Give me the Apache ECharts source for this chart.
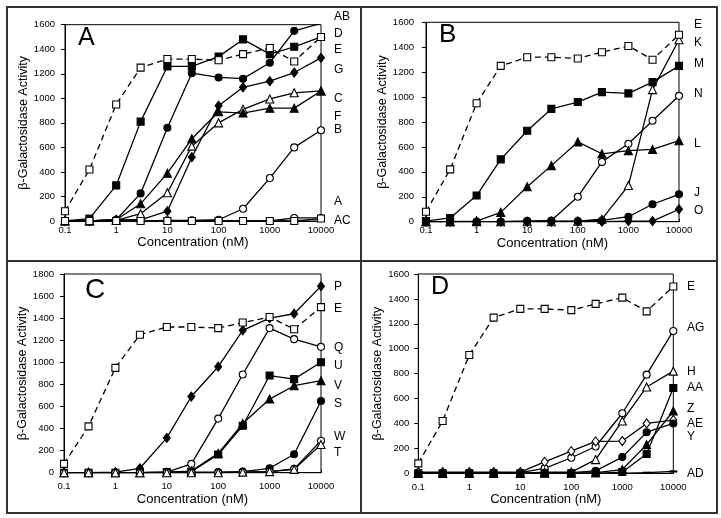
<!DOCTYPE html>
<html>
<head>
<meta charset="utf-8">
<script src="https://cdn.jsdelivr.net/npm/echarts@6/dist/echarts.min.js"></script>
<style>
html,body{margin:0;padding:0;background:#fff;}
#c{width:721px;height:518px;}
</style>
</head>
<body>
<div id="c"></div>
<script>
// ---- data ----
var conc = [0.1, 0.3, 1, 3, 10, 30, 100, 300, 1000, 3000, 10000];
var xTicks = ['0.1', '1', '10', '100', '1000', '10000'];
var yTicks1600 = [0, 200, 400, 600, 800, 1000, 1200, 1400, 1600];
var yTicks1800 = [0, 200, 400, 600, 800, 1000, 1200, 1400, 1600, 1800];

var E = [80, 420, 950, 1250, 1320, 1320, 1310, 1360, 1410, 1300, 1500];

// Panel A
var A_D  = [0, 20, 290, 810, 1260, 1260, 1340, 1480, 1360, 1420, 1500];
var A_AB = [0, 0, 10, 225, 760, 1205, 1170, 1160, 1290, 1550, 1610];
var A_G  = [0, 0, 10, 10, 80, 520, 940, 1090, 1140, 1210, 1330];
var A_C  = [0, 0, 5, 60, 230, 610, 800, 910, 995, 1045, 1060];
var A_F  = [0, 0, 10, 140, 390, 670, 890, 880, 920, 920, 1060];
var A_B  = [0, 0, 0, 0, 5, 5, 10, 100, 350, 600, 740];
var A_A  = [0, 0, 0, 0, 0, 0, 0, 0, 0, 25, 25];
var A_AC = [0, 0, 0, 0, 0, 0, 0, 0, 0, 0, 20];

// Panel B
var B_K = [0, 0, 0, 0, 0, 0, 5, 20, 290, 1060, 1460];
var B_M = [5, 30, 210, 500, 730, 905, 960, 1040, 1030, 1120, 1250];
var B_N = [0, 0, 0, 0, 5, 10, 200, 480, 625, 810, 1010];
var B_L = [0, 0, 5, 75, 280, 450, 640, 545, 570, 580, 650];
var B_J = [0, 0, 0, 0, 5, 5, 5, 10, 40, 140, 220];
var B_O = [0, 0, 0, 0, 0, 0, 0, 0, 5, 5, 100];

// Panel C
var C_P = [0, 0, 5, 40, 315, 690, 960, 1290, 1400, 1440, 1690];
var C_Q = [0, 0, 0, 0, 5, 80, 490, 890, 1310, 1210, 1140];
var C_U = [0, 0, 0, 0, 5, 10, 165, 425, 880, 848, 1000];
var C_V = [0, 0, 0, 0, 5, 15, 175, 445, 667, 788, 834];
var C_S = [0, 0, 0, 0, 0, 5, 5, 10, 40, 167, 650];
var C_W = [0, 0, 0, 0, 0, 0, 0, 5, 10, 35, 290];
var C_T = [0, 0, 0, 0, 0, 0, 0, 5, 10, 30, 255];

// Panel D
var D_AG = [5, 5, 5, 5, 5, 40, 125, 215, 482, 792, 1143];
var D_H  = [0, 0, 0, 0, 0, 10, 10, 110, 420, 693, 820];
var D_AA = [0, 0, 0, 0, 0, 0, 0, 0, 10, 155, 685];
var D_Z  = [0, 0, 0, 0, 0, 0, 0, 5, 30, 230, 500];
var D_AE = [10, 10, 10, 10, 10, 92, 178, 256, 259, 400, 427];
var D_Y  = [0, 0, 0, 0, 0, 0, 5, 20, 130, 330, 400];
var D_AD = [0, 0, 0, 0, 0, 0, 0, 0, 0, 5, 15];

var panelLetters = ['A', 'B', 'C', 'D'];
var labelsA = ['AB', 'D', 'E', 'G', 'C', 'F', 'B', 'A', 'AC'];
var labelsB = ['E', 'K', 'M', 'N', 'L', 'J', 'O'];
var labelsC = ['P', 'E', 'Q', 'U', 'V', 'S', 'W', 'T'];
var labelsD = ['E', 'AG', 'H', 'AA', 'Z', 'AE', 'Y', 'AD'];

// ---- layout ----
var FONT = '"Liberation Sans", Arial, sans-serif';
var grids = [
  {left: 65, top: 24.7, width: 256, height: 196.3},
  {left: 426, top: 22.3, width: 253, height: 199.4},
  {left: 64, top: 274, width: 257, height: 198.7},
  {left: 418.3, top: 274, width: 255, height: 199.3}
];
var xLabelMargin = [4, 4, 9, 9];
var xNameGap = [13, 11, 18, 18];
var yLabelMargin = [10, 12, 10, 9];
var yNameGap = [27, 27, 26, 25];
var yMax = [1600, 1600, 1800, 1600];
var letterPos = [[78, 38, 25], [439, 35, 26], [85, 290, 28], [431, 287.5, 25]];
var labelX = [334, 694, 334, 687];
var labelYs = [
  [16.7, 33.3, 49.3, 70, 98.3, 116.7, 129.3, 201.7, 221],
  [25, 42.7, 63.3, 93.3, 144, 192.7, 211],
  [287, 308.7, 348, 365.3, 385.7, 403.7, 437, 452.3],
  [286.3, 328, 371.3, 388, 409, 423.7, 436.3, 474]
];
var allLabels = [labelsA, labelsB, labelsC, labelsD];

function pairs(ys) { return ys.map(function (v, i) { return [conc[i], v]; }); }

var markers = {
  oSq: {symbol: 'rect', symbolSize: 7, fill: '#fff'},
  fSq: {symbol: 'rect', symbolSize: 7, fill: '#000'},
  fCi: {symbol: 'circle', symbolSize: 7, fill: '#000'},
  oCi: {symbol: 'circle', symbolSize: 7, fill: '#fff'},
  fDi: {symbol: 'diamond', symbolSize: [7, 9], fill: '#000'},
  oDi: {symbol: 'diamond', symbolSize: [7, 9], fill: '#fff'},
  fTr: {symbol: 'triangle', symbolSize: 8, fill: '#000'},
  oTr: {symbol: 'triangle', symbolSize: 8, fill: '#fff'},
  dash: {symbol: 'rect', symbolSize: [6, 1.5], fill: '#000'}
};

function mk(name, panel, ys, m, dashed) {
  var mm = markers[m];
  return {
    name: name, type: 'line', xAxisIndex: panel, yAxisIndex: panel,
    data: pairs(ys), symbol: mm.symbol, symbolSize: mm.symbolSize, showSymbol: true,
    lineStyle: {color: '#000', width: 1.3, type: dashed ? [6, 4] : 'solid'},
    itemStyle: {color: mm.fill, borderColor: '#000', borderWidth: 1.1, opacity: 1},
    emphasis: {disabled: true}, animation: false, z: dashed ? 3 : 2
  };
}

var series = [
  mk('E', 0, E, 'oSq', true),
  mk('D', 0, A_D, 'fSq'), mk('AB', 0, A_AB, 'fCi'), mk('G', 0, A_G, 'fDi'),
  mk('C', 0, A_C, 'oTr'), mk('F', 0, A_F, 'fTr'), mk('B', 0, A_B, 'oCi'),
  mk('A', 0, A_A, 'oCi'), mk('AC', 0, A_AC, 'oSq'),

  mk('E', 1, E, 'oSq', true),
  mk('K', 1, B_K, 'oTr'), mk('M', 1, B_M, 'fSq'), mk('N', 1, B_N, 'oCi'),
  mk('L', 1, B_L, 'fTr'), mk('J', 1, B_J, 'fCi'), mk('O', 1, B_O, 'fDi'),

  mk('E', 2, E, 'oSq', true),
  mk('P', 2, C_P, 'fDi'), mk('Q', 2, C_Q, 'oCi'), mk('U', 2, C_U, 'fSq'),
  mk('V', 2, C_V, 'fTr'), mk('S', 2, C_S, 'fCi'), mk('W', 2, C_W, 'oCi'),
  mk('T', 2, C_T, 'oTr'),

  mk('E', 3, E, 'oSq', true),
  mk('AG', 3, D_AG, 'oCi'), mk('H', 3, D_H, 'oTr'), mk('AA', 3, D_AA, 'fSq'),
  mk('Z', 3, D_Z, 'fTr'), mk('AE', 3, D_AE, 'oDi'), mk('Y', 3, D_Y, 'fCi'),
  mk('AD', 3, D_AD, 'dash')
];

var xAxes = [], yAxes = [], gridOpts = [];
for (var p = 0; p < 4; p++) {
  gridOpts.push({left: grids[p].left, top: grids[p].top, width: grids[p].width, height: grids[p].height,
    show: true, borderColor: '#000', borderWidth: 1, backgroundColor: 'transparent', containLabel: false});
  xAxes.push({
    type: 'log', logBase: 10, min: 0.1, max: 10000, gridIndex: p,
    name: 'Concentration (nM)', nameLocation: 'middle', nameGap: xNameGap[p],
    nameTextStyle: {fontFamily: FONT, fontSize: 13, color: '#000'},
    axisLine: {show: true, lineStyle: {color: '#000', width: 1}},
    axisTick: {show: true, inside: true, length: 3, lineStyle: {color: '#000'}},
    minorTick: {show: false},
    axisLabel: {fontFamily: FONT, fontSize: 9.5, color: '#000', margin: xLabelMargin[p],
      formatter: function (v) { var s = xTicks.filter(function (t) { return Math.abs(parseFloat(t) - v) < 1e-6 * Math.max(1, v); }); return s.length ? s[0] : ''; }},
    splitLine: {show: false}
  });
  var ticks = yMax[p] === 1800 ? yTicks1800 : yTicks1600;
  yAxes.push({
    type: 'value', min: ticks[0], max: ticks[ticks.length - 1], interval: ticks[1] - ticks[0], gridIndex: p,
    name: 'β-Galactosidase Activity', nameLocation: 'middle', nameGap: yNameGap[p],
    nameTextStyle: {fontFamily: FONT, fontSize: 12.5, color: '#000'},
    axisLine: {show: true, lineStyle: {color: '#000', width: 1}},
    axisTick: {show: true, inside: false, length: 4, lineStyle: {color: '#000'}},
    axisLabel: {fontFamily: FONT, fontSize: 9.5, color: '#000', margin: yLabelMargin[p],
      formatter: function (v) { return String(v); }},
    splitLine: {show: false}
  });
}

var graphic = [];
// frame
graphic.push({type: 'rect', shape: {x: 7, y: 7, width: 710, height: 506}, style: {fill: 'none', stroke: '#333', lineWidth: 2}, silent: true});
graphic.push({type: 'line', shape: {x1: 361, y1: 7, x2: 361, y2: 513}, style: {stroke: '#333', lineWidth: 2}, silent: true});
graphic.push({type: 'line', shape: {x1: 7, y1: 261, x2: 717, y2: 261}, style: {stroke: '#333', lineWidth: 2}, silent: true});
for (var q = 0; q < 4; q++) {
  graphic.push({type: 'text', x: letterPos[q][0], y: letterPos[q][1], silent: true,
    style: {text: panelLetters[q], font: letterPos[q][2] + 'px ' + FONT, fill: '#000', textVerticalAlign: 'middle', textAlign: 'left'}});
  for (var k = 0; k < allLabels[q].length; k++) {
    graphic.push({type: 'text', x: labelX[q], y: labelYs[q][k], silent: true,
      style: {text: allLabels[q][k], font: '12px ' + FONT, fill: '#000', textVerticalAlign: 'middle', textAlign: 'left'}});
  }
}

var chart = echarts.init(document.getElementById('c'), null, {renderer: 'canvas'});
chart.setOption({
  backgroundColor: '#fff',
  animation: false,
  grid: gridOpts,
  xAxis: xAxes,
  yAxis: yAxes,
  series: series,
  graphic: graphic
});
</script>
</body>
</html>
